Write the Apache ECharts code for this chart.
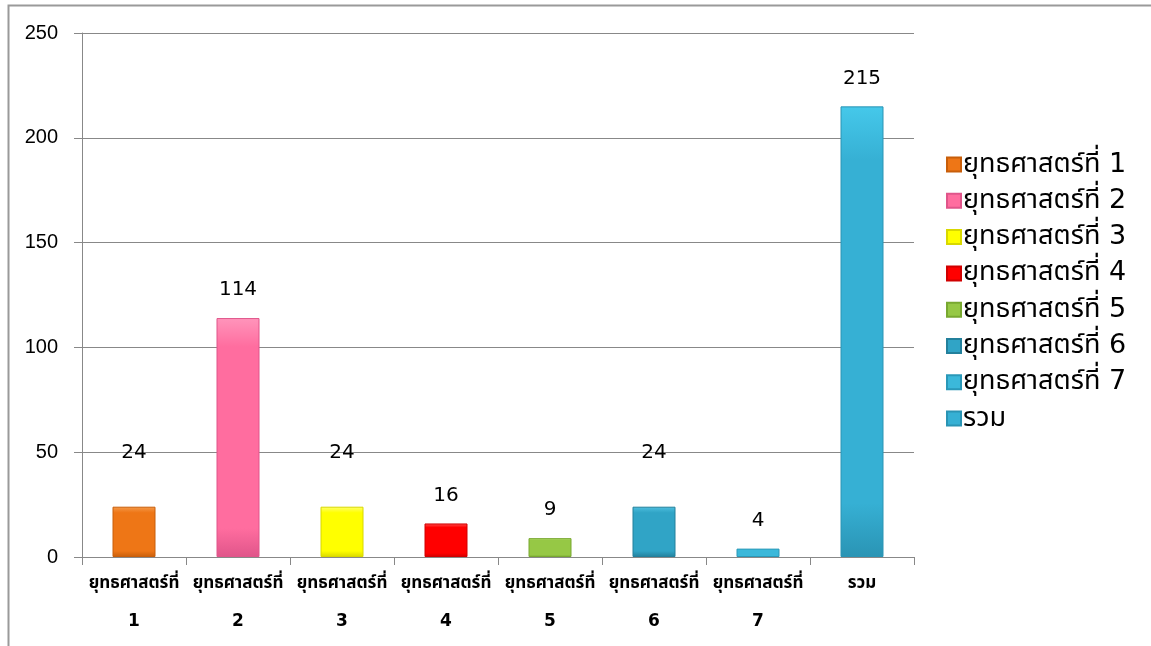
<!DOCTYPE html>
<html><head><meta charset="utf-8">
<script src="https://cdn.jsdelivr.net/npm/echarts@6/dist/echarts.min.js"></script>
<style>html,body{margin:0;padding:0;background:#fff}#c{width:1151px;height:646px}</style>
</head><body><div id="c"></div>
<script>
const categories = ['ยุทธศาสตร์ที่ 1','ยุทธศาสตร์ที่ 2','ยุทธศาสตร์ที่ 3','ยุทธศาสตร์ที่ 4','ยุทธศาสตร์ที่ 5','ยุทธศาสตร์ที่ 6','ยุทธศาสตร์ที่ 7','รวม'];
const values = [24, 114, 24, 16, 9, 24, 4, 215];
const yTicks = [0, 50, 100, 150, 200, 250];

const palette = [
  ['#f59a4a','#ee7616','#c85e0a'],
  ['#ff95bb','#ff6d9f','#e0558a'],
  ['#ffff70','#ffff00','#d8d800'],
  ['#ff5050','#ff0000','#d00000'],
  ['#b8e070','#96c845','#78a830'],
  ['#50c0e0','#30a4c6','#23809c'],
  ['#6ad4f0','#3bb8da','#2a98b8'],
  ['#45c8ea','#36b0d4','#2a94b4']
];
const labelLift = [44,18,44,18,18,44,18,18];

const font = '"DejaVu Sans","Noto Sans","Noto Sans Thai",Tahoma,sans-serif';

const series = categories.map((name, i) => ({
  name: name,
  type: 'bar',
  stack: 'all',
  barWidth: 43,
  data: categories.map((c, j) => j === i ? values[i] : '-'),
  itemStyle: {
    color: new echarts.graphic.LinearGradient(0,0,0,1,[
      {offset:0,color:palette[i][0]},
      {offset:0.12,color:palette[i][1]},
      {offset:0.88,color:palette[i][1]},
      {offset:1,color:palette[i][2]}
    ]),
    borderColor: palette[i][2],
    borderWidth: 1
  },
  label: {
    show: true, position: 'top', distance: labelLift[i],
    color: '#000', fontSize: 20, fontFamily: font
  }
}));

const chart = echarts.init(document.getElementById('c'));
chart.setOption({
  animation: false,
  backgroundColor: '#fff',
  graphic: [{
    type: 'rect', left: 6, top: 3,
    shape: {width: 1300, height: 800},
    style: {fill: 'none', stroke: '#9a9a9a', lineWidth: 2},
    z: 100, silent: true
  }],
  grid: {left: 82, top: 33, right: 237, bottom: 89, containLabel: false},
  legend: {
    orient: 'vertical', left: 941, top: 146,
    itemWidth: 14, itemHeight: 14, itemGap: 9.3,
    icon: 'rect',
    textStyle: {fontSize: 27, color: '#000', fontFamily: font, padding: [0,0,0,-3]},
    data: categories
  },
  xAxis: {
    type: 'category', data: categories,
    axisLine: {lineStyle: {color: '#888', width: 1}},
    axisTick: {show: true, alignWithLabel: false, length: 8, lineStyle: {color: '#888'}},
    axisLabel: {
      interval: 0, color: '#000', fontSize: 17, fontWeight: 'bold', fontFamily: font,
      lineHeight: 38, margin: 8,
      formatter: v => v.replace(' ', '\n')
    }
  },
  yAxis: {
    type: 'value', min: 0, max: 250, interval: 50,
    axisLine: {show: true, lineStyle: {color: '#888'}},
    axisTick: {show: true, length: 8, lineStyle: {color: '#888'}},
    splitLine: {lineStyle: {color: '#888', width: 1}},
    axisLabel: {color: '#000', fontSize: 20, fontFamily: '"Liberation Sans",Arial,sans-serif', margin: 24,
      formatter: v => yTicks.includes(v) ? String(v) : ''}
  },
  series: series
});
</script></body></html>
